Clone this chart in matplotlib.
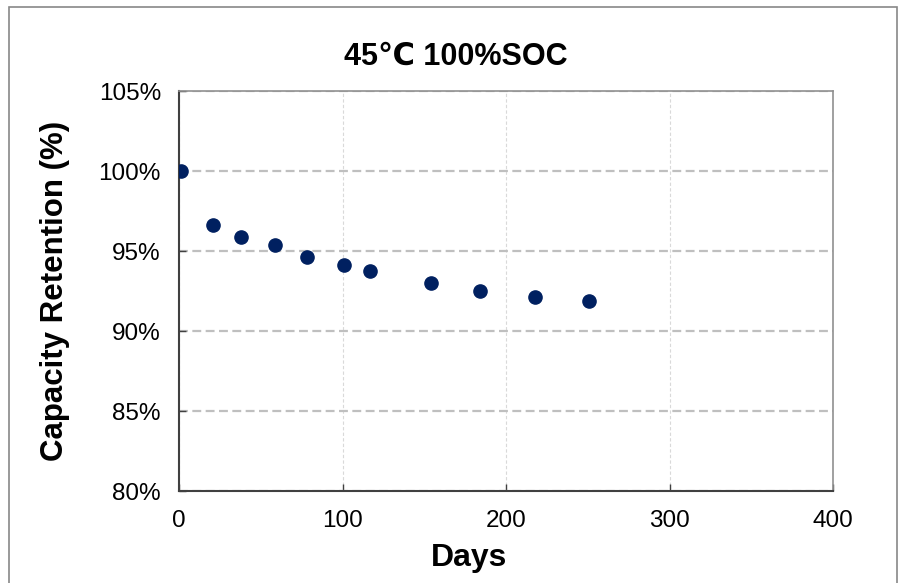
import matplotlib
matplotlib.use("Agg")
import matplotlib.pyplot as plt
from matplotlib.patches import Rectangle
from matplotlib.ticker import FuncFormatter

plt.rcParams['font.family'] = ['Liberation Sans', 'DejaVu Sans']

# storage days vs capacity retention (%)
days = [1, 21, 38, 59, 78, 101, 117, 154, 184, 218, 251]
retention = [100.0, 96.6, 95.9, 95.35, 94.6, 94.15, 93.75, 93.0, 92.5, 92.15, 91.85]

x_ticks = [0, 100, 200, 300, 400]
y_ticks = [80, 85, 90, 95, 100, 105]

W, H = 899, 583
fig = plt.figure(figsize=(W / 100, H / 100), dpi=100)
# outer frame of the chart area
fig.patches.append(Rectangle((9 / W, -0.05), 888 / W, 1.05 - 7 / H,
                             transform=fig.transFigure, fill=False,
                             edgecolor="#888888", lw=1.2))

ax = fig.add_axes([179 / W, 1 - 491 / H, 654 / W, 400 / H])
ax.plot(days, retention, "o", color="#002060", ms=9.5, mec="#002060", zorder=3)

ax.set_xlim(0, 400)
ax.set_ylim(80, 105)
ax.set_xticks(x_ticks)
ax.set_yticks(y_ticks)
ax.yaxis.set_major_formatter(FuncFormatter(lambda v, p: "%d%%" % v))

ax.grid(axis="y", color="#bfbfbf", ls=(0, (4, 2)), lw=1.6)
ax.grid(axis="x", color="#d9d9d9", ls=(0, (3, 2)), lw=0.8)
ax.set_axisbelow(True)

for s in ["left", "bottom"]:
    ax.spines[s].set_color("#404040")
    ax.spines[s].set_linewidth(1.5)
for s in ["top", "right"]:
    ax.spines[s].set_color("#909090")
    ax.spines[s].set_linewidth(1.2)

ax.tick_params(direction="in", length=5, width=1, color="#404040",
               labelsize=17.5, labelcolor="black")
ax.tick_params(axis="x", pad=14)
ax.tick_params(axis="y", pad=13)

fig.text(456 / W, 1 - 57 / H, "45℃ 100%SOC", fontsize=22, fontweight="bold",
         ha="center", va="center")
fig.text(469 / W, 1 - 558 / H, "Days", fontsize=23, fontweight="bold",
         ha="center", va="center")
fig.text(55 / W, 1 - 291 / H, "Capacity Retention (%)", fontsize=22.5,
         fontweight="bold", rotation=90, ha="center", va="center")

fig.savefig("out.png", dpi=100)
